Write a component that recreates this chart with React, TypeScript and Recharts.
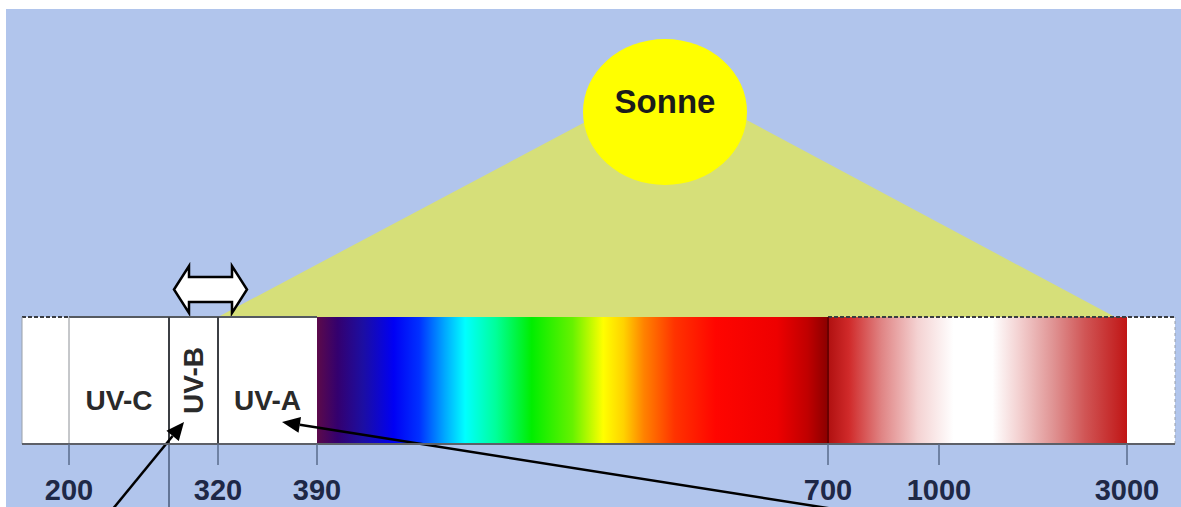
import React from 'react';
import {
  ComposedChart,
  XAxis,
  YAxis,
  Area,
  ReferenceArea,
  ReferenceLine,
  ReferenceDot,
} from 'recharts';

// ---- Data (schematic axis units: x across the spectrum bar, y upward from bar bottom) ----
const AXIS_MAX = 1153;
const Y_MAX = 435;
const BAR_TOP = 127;

const bandNames = ['', 'UV-C', 'UV-B', 'UV-A', 'Licht', 'IR', ''];
const bandStart = [0, 47, 147, 196, 295, 806, 1105];
const bandEnd = [47, 147, 196, 295, 806, 1105, 1153];

const tickWavelengths = ['200', '320', '390', '700', '1000', '3000'];
const tickPositions = [47, 196, 295, 806, 917, 1105];

const beamX = [196, 646, 1093];
const beamY = [127, 366, 127];

const sunX = 643;
const sunY = 332;
const sunName = 'Sonne';

const arrowFromX = [90, 818];
const arrowFromY = [-66, -66];
const arrowToX = [162, 260];
const arrowToY = [22, 22];

const rangeArrowX = [152, 225];
const rangeArrowY = [131, 178];

// ---- Styles ----
const FONT = '"Liberation Sans", Arial, Helvetica, sans-serif';
const BG = '#B1C5EC';
const BEAM = '#D6DF79';
const SUN = '#FFFF00';

const visibleStops: [number, string][] = [
  [0, '#5c0a4a'],
  [0.04, '#34006e'],
  [0.09, '#1c0ea2'],
  [0.15, '#0000f4'],
  [0.2, '#0030ff'],
  [0.25, '#00a8ff'],
  [0.29, '#00ffff'],
  [0.35, '#00ff9a'],
  [0.42, '#00ee00'],
  [0.5, '#66f200'],
  [0.56, '#ffff00'],
  [0.6, '#ffd200'],
  [0.64, '#ff8200'],
  [0.7, '#ff3300'],
  [0.78, '#ff0500'],
  [0.9, '#ee0000'],
  [0.96, '#c00000'],
  [1, '#8a0000'],
];

const irStops: [number, string][] = [
  [0, '#b01010'],
  [0.07, '#d02a2a'],
  [0.18, '#e08585'],
  [0.3, '#f4d2d2'],
  [0.42, '#ffffff'],
  [0.55, '#ffffff'],
  [0.64, '#f3d0d0'],
  [0.75, '#e09595'],
  [0.86, '#d05555'],
  [1, '#c01515'],
];

const GradientBand = (id: string, stops: [number, string][]) => (p: any) => (
  <g>
    <defs>
      <linearGradient id={id} x1="0" y1="0" x2="1" y2="0">
        {stops.map(([o, c]) => (
          <stop key={o} offset={o} stopColor={c} />
        ))}
      </linearGradient>
    </defs>
    <rect x={p.x} y={p.y} width={p.width} height={p.height} fill={`url(#${id})`} />
  </g>
);

const bandShapes: Record<number, any> = {
  4: GradientBand('visGrad', visibleStops),
  5: GradientBand('irGrad', irStops),
};

const labelBase = {
  fontSize: 28,
  fontWeight: 'bold',
  fill: '#2a2a2a',
  fontFamily: FONT,
};

const bandLabel = (i: number) => {
  const name = bandNames[i];
  if (name === 'UV-C' || name === 'UV-A') {
    return { value: name, position: 'insideBottom', offset: 34, ...labelBase };
  }
  if (name === 'UV-B') {
    return { value: name, position: 'center', angle: -90, ...labelBase };
  }
  return undefined;
};

const SunShape = (p: any) => (
  <g>
    <ellipse cx={p.cx} cy={p.cy} rx={82} ry={73} fill={SUN} />
    <text
      x={p.cx}
      y={p.cy - 11}
      textAnchor="middle"
      dominantBaseline="central"
      fontSize={33}
      fontWeight="bold"
      fontFamily={FONT}
      fill="#1b1b1b"
    >
      {sunName}
    </text>
  </g>
);

const DoubleArrowShape = (p: any) => {
  const { x, y, width: w, height: h } = p;
  const cy = y + h / 2;
  const hl = 15;
  const sh = 12.5;
  const pts = [
    [x, cy],
    [x + hl, y],
    [x + hl, cy - sh],
    [x + w - hl, cy - sh],
    [x + w - hl, y],
    [x + w, cy],
    [x + w - hl, y + h],
    [x + w - hl, cy + sh],
    [x + hl, cy + sh],
    [x + hl, y + h],
  ]
    .map((q) => q.join(','))
    .join(' ');
  return <polygon points={pts} fill="#ffffff" stroke="#000" strokeWidth={2.5} />;
};

const ArrowShape = (p: any) => {
  const { x1, y1, x2, y2 } = p;
  const a = Math.atan2(y2 - y1, x2 - x1);
  const L = 18;
  const W = 8;
  const bx = x2 - L * Math.cos(a);
  const by = y2 - L * Math.sin(a);
  const pts = [
    [x2, y2],
    [bx + W * Math.sin(a), by - W * Math.cos(a)],
    [bx - W * Math.sin(a), by + W * Math.cos(a)],
  ]
    .map((q) => q.join(','))
    .join(' ');
  return (
    <g>
      <line x1={x1} y1={y1} x2={bx} y2={by} stroke="#000" strokeWidth={2.5} />
      <polygon points={pts} fill="#000" />
    </g>
  );
};

const beamData = beamX.map((x, i) => ({ x, y: beamY[i] }));

export default function App() {
  return (
    <div
      style={{
        position: 'absolute',
        left: 0,
        top: 0,
        width: 1181,
        height: 507,
        background: '#ffffff',
        overflow: 'hidden',
      }}
    >
      <div style={{ position: 'absolute', left: 6, top: 9, width: 1175, height: 498, background: BG }}>
        <ComposedChart width={1175} height={498} margin={{ top: 0, right: 6, bottom: 0, left: 16 }}>
          <XAxis
            type="number"
            dataKey="x"
            domain={[0, AXIS_MAX]}
            allowDataOverflow
            ticks={tickPositions}
            interval={0}
            tickFormatter={(v: number) => tickWavelengths[tickPositions.indexOf(v)] ?? ''}
            height={63}
            tickSize={21}
            tickMargin={14}
            tick={{ fontSize: 29, fontWeight: 'bold', fill: '#1e2846', fontFamily: FONT }}
            tickLine={{ stroke: '#5a6b8c', strokeWidth: 1.5 }}
            axisLine={{ stroke: '#5d6068', strokeWidth: 2 }}
          />
          <YAxis type="number" hide domain={[0, Y_MAX]} allowDataOverflow />

          <Area
            data={beamData}
            dataKey="y"
            type="linear"
            baseValue={BAR_TOP}
            fill={BEAM}
            fillOpacity={1}
            stroke="none"
            dot={false}
            activeDot={false}
            isAnimationActive={false}
          />

          {bandNames.map((_, i) => (
            <ReferenceArea
              key={`band-${i}`}
              x1={bandStart[i]}
              x2={bandEnd[i]}
              y1={0}
              y2={BAR_TOP}
              fill="#ffffff"
              fillOpacity={1}
              stroke="none"
              shape={bandShapes[i]}
              label={bandLabel(i) as any}
              ifOverflow="visible"
            />
          ))}

          {/* bar outline */}
          <ReferenceLine segment={[{ x: 47, y: BAR_TOP }, { x: 295, y: BAR_TOP }]} stroke="#555a60" strokeWidth={2} ifOverflow="visible" />
          <ReferenceLine segment={[{ x: 0, y: BAR_TOP }, { x: 47, y: BAR_TOP }]} stroke="#3a3d42" strokeWidth={2} strokeDasharray="4 2" ifOverflow="visible" />
          <ReferenceLine segment={[{ x: 806, y: BAR_TOP }, { x: AXIS_MAX, y: BAR_TOP }]} stroke="#3a3d42" strokeWidth={2} strokeDasharray="4 2" ifOverflow="visible" />
          <ReferenceLine segment={[{ x: 0, y: 0 }, { x: 0, y: BAR_TOP }]} stroke="#9aa0a8" strokeWidth={1} ifOverflow="visible" />
          <ReferenceLine segment={[{ x: AXIS_MAX, y: 0 }, { x: AXIS_MAX, y: BAR_TOP }]} stroke="#9aa0a8" strokeWidth={1} strokeDasharray="3 3" ifOverflow="visible" />

          {/* band dividers */}
          <ReferenceLine segment={[{ x: bandStart[1], y: 0 }, { x: bandStart[1], y: BAR_TOP }]} stroke="#8c9096" strokeWidth={1} ifOverflow="visible" />
          <ReferenceLine segment={[{ x: bandStart[2], y: 0 }, { x: bandStart[2], y: BAR_TOP }]} stroke="#3c3f44" strokeWidth={2} ifOverflow="visible" />
          <ReferenceLine segment={[{ x: bandStart[2], y: 0 }, { x: bandStart[2], y: -66 }]} stroke="#4a5a7a" strokeWidth={1.5} ifOverflow="visible" />
          <ReferenceLine segment={[{ x: bandStart[3], y: 0 }, { x: bandStart[3], y: BAR_TOP }]} stroke="#3c3f44" strokeWidth={2} ifOverflow="visible" />
          <ReferenceLine segment={[{ x: bandStart[5], y: 0 }, { x: bandStart[5], y: BAR_TOP }]} stroke="#6a0000" strokeWidth={2} ifOverflow="visible" />

          <ReferenceDot x={sunX} y={sunY} r={73} shape={SunShape} ifOverflow="visible" />

          <ReferenceArea
            x1={rangeArrowX[0]}
            x2={rangeArrowX[1]}
            y1={rangeArrowY[0]}
            y2={rangeArrowY[1]}
            shape={DoubleArrowShape}
            ifOverflow="visible"
          />

          {arrowFromX.map((_, i) => (
            <ReferenceLine
              key={`arrow-${i}`}
              segment={[
                { x: arrowFromX[i], y: arrowFromY[i] },
                { x: arrowToX[i], y: arrowToY[i] },
              ]}
              shape={ArrowShape}
              ifOverflow="visible"
            />
          ))}
        </ComposedChart>
      </div>
    </div>
  );
}
